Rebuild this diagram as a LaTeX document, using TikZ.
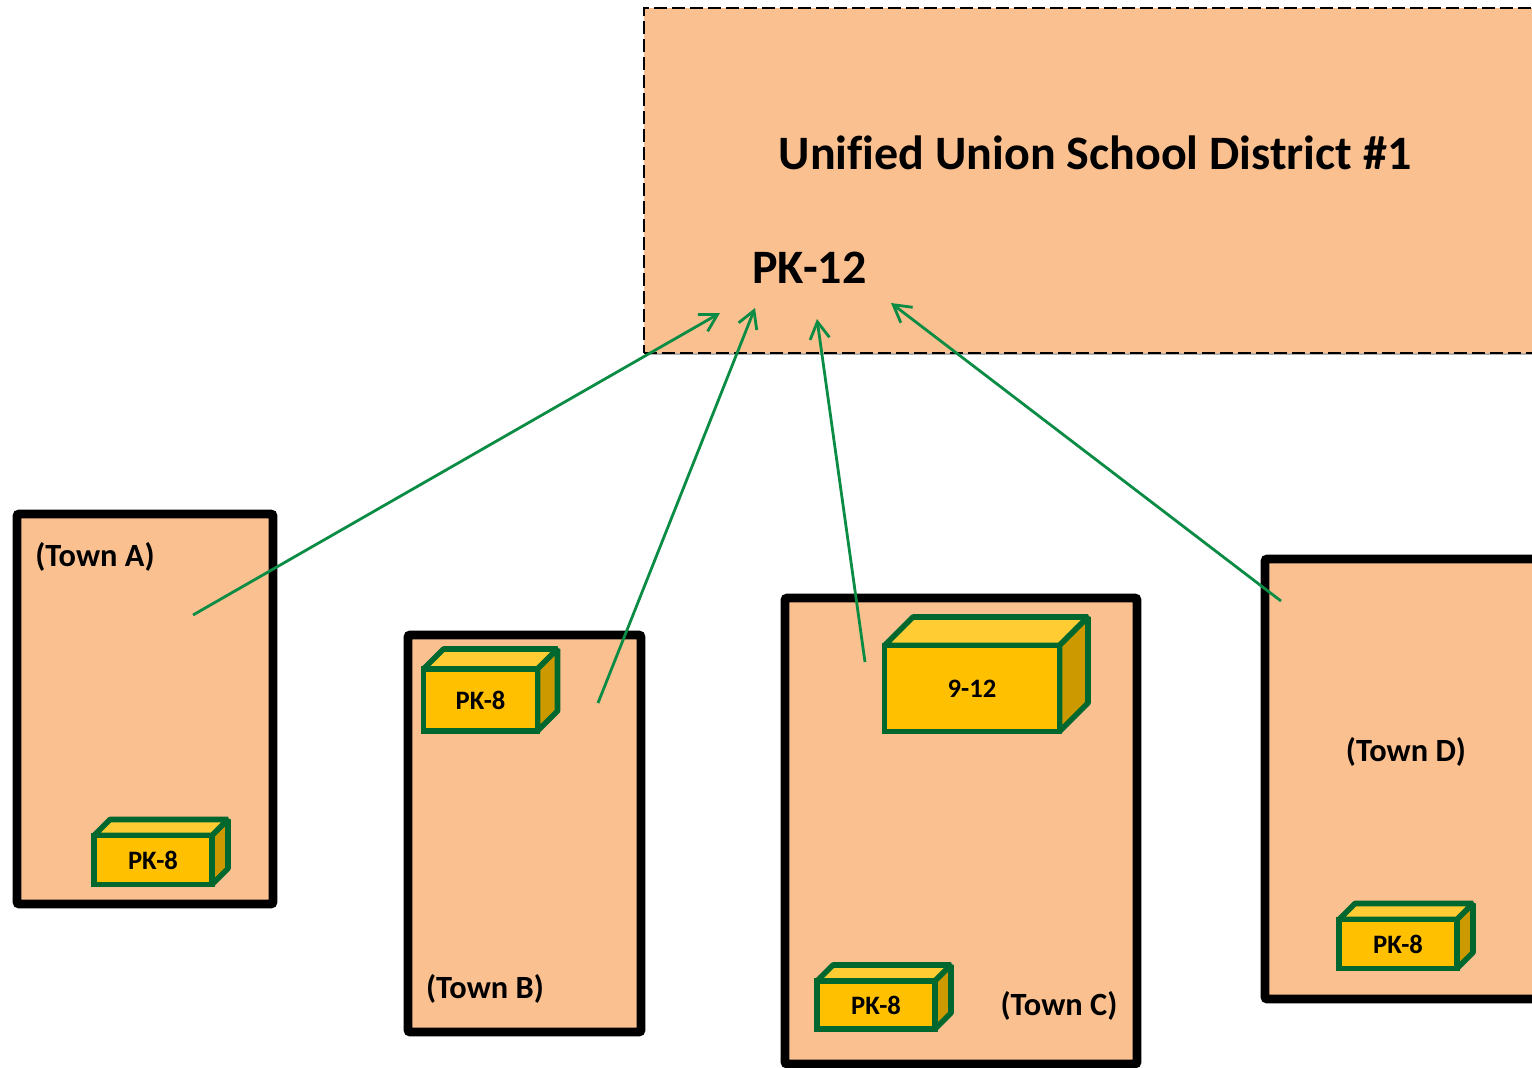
\documentclass[tikz,border=0pt]{standalone}
\usepackage{fontspec}
\setmainfont{Carlito}[Ligatures=NoCommon]
\usetikzlibrary{calc,arrows.meta,shadows}

\definecolor{peach}{HTML}{FAC090}
\definecolor{cubegold}{HTML}{FFC000}
\definecolor{cubelight}{HTML}{FFCD33}
\definecolor{cubedark}{HTML}{CC9A00}
\definecolor{cubeline}{HTML}{00682F}
\definecolor{arrowgreen}{HTML}{0B8C45}

\tikzset{
    softshadow/.style={drop shadow={shadow xshift=1pt,shadow yshift=-1pt,opacity=.3,fill=black}},
    townbox/.style={draw=black,fill=peach,line width=4.3pt,rounded corners=1pt,softshadow},
    districtbox/.style={draw=black,fill=peach,dash pattern=on 6.5pt off 2.5pt,line width=.95pt,softshadow},
    cubefront/.style={draw=cubeline,fill=cubegold,line width=2.8pt,font=\fontsize{13.3}{16}\selectfont\bfseries,inner sep=0pt},
    cubetop/.style={draw=cubeline,fill=cubelight,line width=2.8pt,line join=bevel},
    cubeside/.style={draw=cubeline,fill=cubedark,line width=2.8pt,line join=bevel},
    townlabel/.style={font=\fontsize{16.2}{19}\selectfont\bfseries,inner sep=0pt},
    headlabel/.style={font=\fontsize{24}{29}\selectfont\bfseries,inner sep=0pt},
    joinline/.style={draw=arrowgreen,line width=1.4pt,-{Straight Barb[angle=70:8.5pt,length=8.5pt]}}
}

% front face centre x, y, width, height (pt), depth, name, text
\newcommand{\schoolcube}[7]{
    \draw[cubetop] (#1-#3,#2-#4) -- ++(#5,-#5) -- ++(2*#3,0) -- ++(-#5,#5) -- cycle;
    \draw[cubeside] (#1+#3,#2-#4) -- ++(#5,-#5) -- ++(0,2*#4) -- ++(-#5,#5) -- cycle;
    \node[cubefront,minimum width=#3pt,minimum height=#4pt] (#6) at (#1,#2) {#7};
}

\begin{document}
\begin{tikzpicture}[x=.5pt,y=-.5pt]
    \useasboundingbox (0,0) rectangle (1532,1067);
    \clip (0,0) rectangle (1532,1067);

    % district
    \node[districtbox,minimum width=450.5pt,minimum height=172.5pt] (district) at (1094.5,180.5) {};
    \node[headlabel] (title) at (1095,153) {Unified Union School District \#1};
    \node[headlabel] (grades) at (809.5,268) {PK-12};

    % towns
    \node[townbox,minimum width=128pt,minimum height=195pt] (townA) at (145,709) {};
    \node[townbox,minimum width=116.5pt,minimum height=198.5pt] (townB) at (524.5,833.5) {};
    \node[townbox,minimum width=176pt,minimum height=233pt] (townC) at (961,831) {};
    \node[townbox,minimum width=167.5pt,minimum height=220pt] (townD) at (1432.5,779) {};

    \node[townlabel] (labelA) at (95,557) {(Town A)};
    \node[townlabel] (labelB) at (485,989) {(Town B)};
    \node[townlabel] (labelC) at (1059,1006) {(Town C)};
    \node[townlabel] (labelD) at (1406,752) {(Town D)};

    % schools
    \schoolcube{153}{860}{59}{24.5}{16}{schoolA}{PK-8}
    \schoolcube{480.5}{700}{57}{31}{20}{schoolB}{PK-8}
    \schoolcube{972}{688.5}{87.5}{43}{28.5}{schoolC}{9-12}
    \schoolcube{876}{1005}{59}{24}{16}{schoolCb}{PK-8}
    \schoolcube{1398}{944}{59}{24.5}{16}{schoolD}{PK-8}

    % arrows
    \coordinate (startA) at (193,615);
    \coordinate (startB) at (598,703);
    \coordinate (startC) at (865,662);
    \coordinate (startD) at (1281,601);
    \coordinate (endA) at (720,313);
    \coordinate (endB) at (755,308);
    \coordinate (endC) at (817,319);
    \coordinate (endD) at (891,303);
    \foreach \t in {A,B,C,D}
        \draw[joinline] (start\t) -- (end\t);
\end{tikzpicture}
\end{document}
